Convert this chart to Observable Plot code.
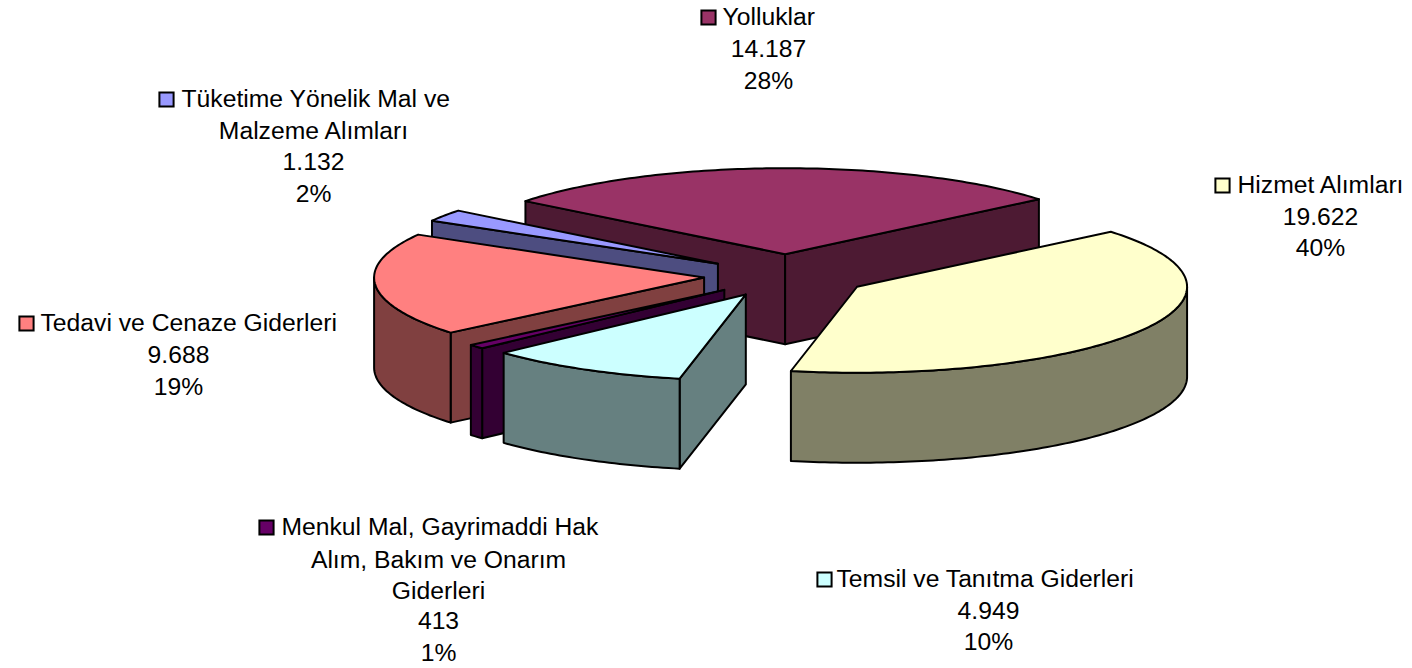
<!DOCTYPE html>
<html>
<head>
<meta charset="utf-8">
<style>html,body{margin:0;padding:0;background:#fff}svg{display:block}</style>
<script src="https://cdn.jsdelivr.net/npm/d3@7"></script>
<script src="https://cdn.jsdelivr.net/npm/@observablehq/plot@0.6"></script>
</head>
<body>
<div id="chart"></div>
<script>
// Data, in the chart's clockwise slice order
const categories = ["Yolluklar", "Hizmet Alımları", "Temsil ve Tanıtma Giderleri", "Menkul Mal, Gayrimaddi Hak Alım, Bakım ve Onarım Giderleri", "Tedavi ve Cenaze Giderleri", "Tüketime Yönelik Mal ve Malzeme Alımları"];
const values = [14187, 19622, 4949, 413, 9688, 1132];
const valueLabels = ["14.187", "19.622", "4.949", "413", "9.688", "1.132"];
const percentLabels = ["28%", "40%", "10%", "1%", "19%", "2%"];
const wrappedNames = [
  ["Yolluklar"],
  ["Hizmet Alımları"],
  ["Temsil ve Tanıtma Giderleri"],
  ["Menkul Mal, Gayrimaddi Hak", "Alım, Bakım ve Onarım", "Giderleri"],
  ["Tedavi ve Cenaze Giderleri"],
  ["Tüketime Yönelik Mal ve", "Malzeme Alımları"]
];
const colors = ["#993366", "#FFFFCC", "#CCFFFF", "#660066", "#FF8080", "#9999FF"];

// Layout of the pie (separate from the data)
const W = 1412, H = 668;
const pie = {cx: 785.8, cy: 275.2, rx: 330, ry: 86, depth: 90, explode: 0.25, start: -51.9};
const paintOrder = [0, 5, 4, 3, 2, 1]; // back to front
const labelLayout = [
  {keyX: 708, textX: 722, centerX: 768, ys: [17, 49, 81]},
  {keyX: 1222, textX: 1237, centerX: 1320, ys: [185, 217, 248]},
  {keyX: 824, textX: 836, centerX: 988, ys: [579, 611, 642]},
  {keyX: 266, textX: 281, centerX: 438, ys: [527, 560, 591, 621, 653]},
  {keyX: 26, textX: 40, centerX: 178, ys: [323, 355, 387]},
  {keyX: 166, textX: 181, centerX: 313, ys: [99, 131, 162, 194]}
];

const rad = d => d * Math.PI / 180;
const total = d3.sum(values);
const shade = c => { const k = d3.rgb(c); return d3.rgb(k.r / 2, k.g / 2, k.b / 2).formatHex(); };
const norm = t => ((t % 360) + 360) % 360;

// Slice angles, measured clockwise from the top of the ellipse
const cumulative = d3.cumsum(values);
const slices = values.map((v, i) => ({
  i,
  a: pie.start + (cumulative[i] - v) / total * 360,
  b: pie.start + cumulative[i] / total * 360
}));

const faces = [];
paintOrder.forEach(idx => {
  const {i, a, b} = slices[idx];
  const mid = (a + b) / 2;
  const ox = pie.cx + pie.explode * pie.rx * Math.sin(rad(mid));
  const oy = pie.cy - pie.explode * pie.ry * Math.cos(rad(mid));
  const rim = t => [ox + pie.rx * Math.sin(rad(t)), oy - pie.ry * Math.cos(rad(t))];
  const arc = (s, e) => { const n = Math.max(2, Math.ceil(Math.abs(e - s))); return d3.range(n + 1).map(j => rim(s + (e - s) * j / n)); };
  const down = p => [p[0], p[1] + pie.depth];
  const add = (name, pts, color) => {
    const id = `${i}-${name}`;
    [...pts, pts[0]].forEach(p => faces.push({id, x: p[0], y: p[1], color}));
  };
  const dark = shade(colors[i]);
  const apex = [ox, oy];
  // radial side walls that face the viewer
  if (Math.sin(rad(a)) < 0) add("s", [apex, rim(a), down(rim(a)), down(apex)], dark);
  if (Math.sin(rad(b)) > 0) add("e", [apex, rim(b), down(rim(b)), down(apex)], dark);
  // outer wall: front half of the ellipse only
  const s = Math.max(norm(a), 90), e = Math.min(norm(a) + (b - a), 270);
  if (e > s) { const top = arc(s, e); add("o", [...top, ...top.slice().reverse().map(down)], dark); }
  // top face
  add("t", [apex, ...arc(a, b)], colors[i]);
});

// Labels
const starts = [], centers = [], keys = [];
categories.forEach((c, i) => {
  const L = labelLayout[i];
  const lines = [...wrappedNames[i], valueLabels[i], percentLabels[i]];
  lines.forEach((text, j) => (j === 0 ? starts : centers).push({text, x: j === 0 ? L.textX : L.centerX, y: L.ys[j]}));
  keys.push({x: L.keyX, y: L.ys[0], color: colors[i], category: c});
});

const font = {fontFamily: "'Liberation Sans', Arial, sans-serif", fontSize: 24.7, fill: "#000"};
const chart = Plot.plot({
  width: W, height: H, margin: 0,
  style: {background: "#fff"},
  x: {domain: [0, W], range: [0, W], axis: null},
  y: {domain: [0, H], range: [0, H], axis: null},
  color: {type: "identity"},
  marks: [
    Plot.line(faces, {x: "x", y: "y", z: "id", fill: "color", stroke: "#000", strokeWidth: 2, strokeLinejoin: "round", curve: "linear"}),
    Plot.dot(keys, {x: "x", y: "y", symbol: "square", r: 8, fill: "color", stroke: "#000", strokeWidth: 2}),
    Plot.text(starts, {x: "x", y: "y", text: "text", textAnchor: "start", ...font}),
    Plot.text(centers, {x: "x", y: "y", text: "text", textAnchor: "middle", ...font})
  ]
});
document.getElementById("chart").append(chart);
</script>
</body>
</html>
